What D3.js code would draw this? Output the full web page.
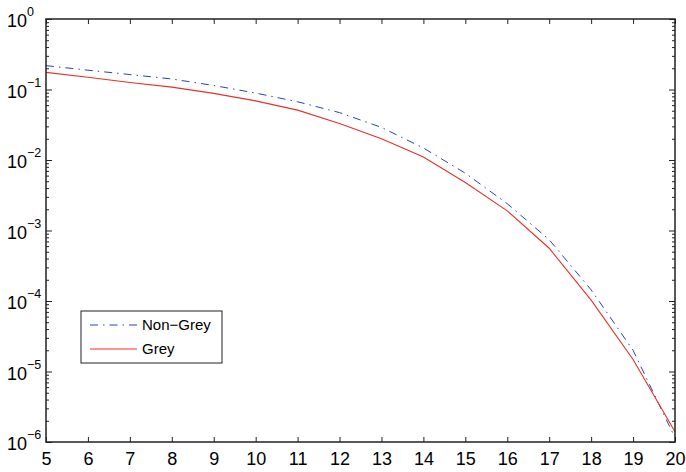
<!DOCTYPE html>
<html>
<head>
<meta charset="utf-8">
<script src="https://cdn.jsdelivr.net/npm/d3@7"></script>
<style>
  body { margin: 0; background: #fff; }
  text { font-family: Arial, "Liberation Sans", sans-serif; fill: #000; }
</style>
</head>
<body>
<div id="viz"></div>
<script>
const xValues = [5, 6, 7, 8, 9, 10, 11, 12, 13, 14, 15, 16, 17, 18, 19, 20];
const nonGrey = [0.218, 0.188, 0.163, 0.141, 0.114, 0.089, 0.067, 0.047, 0.029, 0.0148, 0.0065, 0.0024, 0.00074, 0.000144, 2.0e-5, 1.15e-6];
const grey = [0.175, 0.149, 0.126, 0.108, 0.088, 0.069, 0.051, 0.033, 0.020, 0.011, 0.0048, 0.0019, 0.00056, 0.000103, 1.48e-5, 1.4e-6];
const xTicks = [5, 6, 7, 8, 9, 10, 11, 12, 13, 14, 15, 16, 17, 18, 19, 20];
const yExponents = [0, -1, -2, -3, -4, -5, -6];
const seriesNames = ["Non\u2212Grey", "Grey"];

const width = 686;
const height = 472;
const margin = { top: 19, right: 11, bottom: 30, left: 46 };

const svg = d3.select("#viz").append("svg")
    .attr("width", width)
    .attr("height", height);

const x = d3.scaleLinear()
    .domain([5, 20])
    .range([margin.left, width - margin.right]);

const y = d3.scaleLog()
    .domain([1e-6, 1])
    .range([height - margin.bottom, margin.top]);

const majorY = yExponents.map(e => Math.pow(10, e));
const minorY = [];
yExponents.slice(1).forEach(e => {
    for (let m = 2; m <= 9; m++) minorY.push(m * Math.pow(10, e));
});

// lines
const line = d3.line()
    .x((d, i) => x(xValues[i]))
    .y(d => y(d));

svg.append("path")
    .datum(nonGrey)
    .attr("d", line)
    .attr("fill", "none")
    .attr("stroke", "#2346b0")
    .attr("stroke-width", 1)
    .attr("stroke-dasharray", "8,5,1.5,5");

svg.append("path")
    .datum(grey)
    .attr("d", line)
    .attr("fill", "none")
    .attr("stroke", "#e8302a")
    .attr("stroke-width", 1.1);

// axes with inward ticks
function styleAxis(g) {
    g.select(".domain").remove();
    g.selectAll(".tick line").attr("stroke", "#222").attr("stroke-width", 1);
}

const bottom = height - margin.bottom;
const right = width - margin.right;

svg.append("g")
    .attr("transform", `translate(0,${bottom})`)
    .call(d3.axisBottom(x).tickValues(xTicks).tickSize(-5).tickPadding(10).tickFormat(d3.format("d")))
    .call(styleAxis)
    .call(g => g.selectAll("text").attr("font-size", 18).attr("fill", "#000"));

svg.append("g")
    .attr("transform", `translate(0,${margin.top})`)
    .call(d3.axisTop(x).tickValues(xTicks).tickSize(-5).tickFormat(""))
    .call(styleAxis);

svg.append("g")
    .attr("transform", `translate(${margin.left},0)`)
    .call(d3.axisLeft(y).tickValues(majorY).tickSize(-6).tickFormat(""))
    .call(styleAxis);

svg.append("g")
    .attr("transform", `translate(${margin.left},0)`)
    .call(d3.axisLeft(y).tickValues(minorY).tickSize(-3).tickFormat(""))
    .call(styleAxis);

svg.append("g")
    .attr("transform", `translate(${right},0)`)
    .call(d3.axisRight(y).tickValues(majorY).tickSize(-6).tickFormat(""))
    .call(styleAxis);

svg.append("g")
    .attr("transform", `translate(${right},0)`)
    .call(d3.axisRight(y).tickValues(minorY).tickSize(-3).tickFormat(""))
    .call(styleAxis);

// y tick labels 10^n
const yLabels = svg.append("g").selectAll("g")
    .data(yExponents)
    .enter()
    .append("g")
    .attr("transform", e => `translate(${margin.left - 19},${y(Math.pow(10, e))})`);

yLabels.append("text")
    .attr("text-anchor", "end")
    .attr("y", 8)
    .attr("font-size", 18)
    .text("10");

yLabels.append("text")
    .attr("x", 0)
    .attr("y", -3)
    .attr("font-size", 12.5)
    .text(e => e === 0 ? "0" : "\u2212" + Math.abs(e));

// frame
svg.append("rect")
    .attr("x", margin.left)
    .attr("y", margin.top)
    .attr("width", right - margin.left)
    .attr("height", bottom - margin.top)
    .attr("fill", "none")
    .attr("stroke", "#222")
    .attr("stroke-width", 1.5);

// legend
const legend = svg.append("g").attr("transform", "translate(81,311)");

legend.append("rect")
    .attr("width", 141)
    .attr("height", 52)
    .attr("fill", "#fff")
    .attr("stroke", "#222")
    .attr("stroke-width", 1);

const legendStyles = [
    { color: "#2346b0", dash: "8,5,1.5,5" },
    { color: "#e8302a", dash: null }
];

const items = legend.selectAll(".item")
    .data(seriesNames)
    .enter()
    .append("g")
    .attr("class", "item")
    .attr("transform", (d, i) => `translate(0,${14 + i * 24})`);

items.append("line")
    .attr("x1", 9)
    .attr("x2", 56)
    .attr("stroke", (d, i) => legendStyles[i].color)
    .attr("stroke-width", 1)
    .attr("stroke-dasharray", (d, i) => legendStyles[i].dash);

items.append("text")
    .attr("x", 61)
    .attr("y", 5)
    .attr("font-size", 15)
    .text(d => d);
</script>
</body>
</html>
